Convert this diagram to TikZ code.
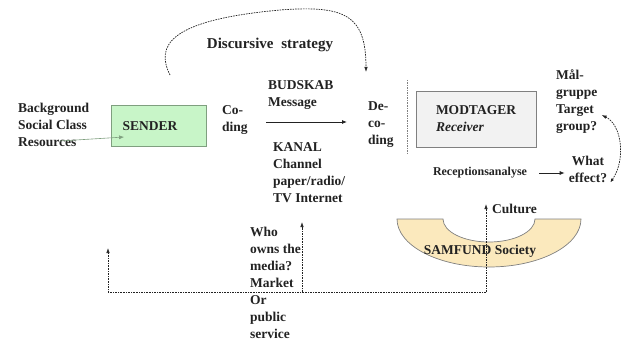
\documentclass[tikz,border=0pt]{standalone}
\usepackage{fontspec}
\setmainfont{Liberation Serif}
\usetikzlibrary{positioning, calc, arrows.meta}
\definecolor{sendfill}{HTML}{C8F5C8}
\definecolor{sendline}{HTML}{7F9F7F}
\definecolor{recfill}{HTML}{F2F2F2}
\definecolor{socfill}{HTML}{FBE9BD}
\definecolor{ink}{HTML}{222222}

\begin{document}
\begin{tikzpicture}[x=1pt, y=-1pt,
		every node/.style={font=\bfseries\fontsize{13.5}{17}\selectfont, inner sep=0pt, text=ink},
		txt/.style={align=left, anchor=west},
		sendbox/.style={draw=sendline, fill=sendfill, line width=0.8pt, align=left, text width=73pt, inner xsep=11pt, minimum height=41pt},
		recbox/.style={draw=gray, fill=recfill, line width=0.8pt, align=left, text width=80pt, inner xsep=20pt, minimum height=56pt},
		dots/.style={draw=ink, line width=0.7pt, dash pattern=on 1.6pt off 1pt, -{Latex[length=5pt,width=3.5pt]}},
		flow/.style={draw=ink, line width=0.8pt, -{Latex[length=5pt,width=4pt]}}
		]
		\useasboundingbox (0,0) rectangle (627,345);
		% sender side
		\node[txt] (bg) at (18,125) {Background\\Social Class\\Resources};
		\node[sendbox] (sender) at (159,126) {SENDER};
		\node[txt] (coding) at (222,120) {Co-\\ding};
		\draw[flow, draw=sendline, line width=0.6pt] ($(bg.west)+(42,16)$) -- ($(sender.west)+(13,11)$);
		% message and channel
		\node[txt] (msg) at (268,95) {BUDSKAB\\Message};
		\node[txt] (kanal) at (273,173) {KANAL\\Channel\\paper/radio/\\TV Internet};
		\node[txt] (decoding) at (368,125) {De-\\co-\\ding};
		\coordinate (mstart) at (266,122);
		\coordinate (mend) at (347,122);
		\draw[flow] (mstart) -- (mend);
		\node[font=\bfseries\fontsize{15}{18}\selectfont] (strategy) at (270,45) {Discursive\hspace{4pt} strategy};
		\coordinate (strat0) at (170,75);
		\coordinate (strat1) at (366,72);
		\draw[dots] (strat0) .. controls (155,45) and (170,20) .. (280,10) .. controls (345,5) and (366,15) .. (strat1);
		% receiver side
		\draw[draw=gray, line width=0.7pt, dash pattern=on 1.5pt off 1pt] (407,80) -- (407,155);
		\node[recbox] (receiver) at (476,119) {MODTAGER\\\textit{Receiver}};
		\node[txt] (target) at (556,102) {Mål-\\gruppe\\Target\\group?};
		\node[align=center] (effect) at (588,169) {What\\effect?};
		\node[font=\bfseries\fontsize{12}{14}\selectfont] (recep) at (480,173) {Receptionsanalyse};
		\draw[flow] ([xshift=12pt]recep.east) -- ([xshift=-4pt]effect.west |- recep.east);
		\draw[dots, {Latex[length=4pt,width=3pt]}-{Latex[length=5pt,width=3.5pt]}] ([xshift=3pt]effect.south east) .. controls (626,160) and (622,125) .. ([xshift=4pt]target.east |- 0,115);
		% society
		\draw[draw=gray, fill=socfill, line width=0.7pt] (397,219) arc[start angle=180, end angle=360, x radius=92pt, y radius=48pt] -- (535,219) arc[start angle=0, end angle=-180, x radius=46pt, y radius=23pt] -- cycle;
		\node (society) at (480,251) {SAMFUND Society};
		\node[txt] (culture) at (492,209) {Culture};
		% ownership loop
		\node[txt] (owner) at (250,283) {Who\\owns the\\media?\\Market\\Or\\public\\service};
		\coordinate (base) at (486,292);
		\coordinate (sendup) at (108,248);
		\coordinate (kanalup) at (302,222);
		\draw[dots] (base) -- (base |- culture.north);
		\draw[dots] (base) -- (sendup |- base) -- (sendup);
		\draw[dots] (kanalup |- base) -- (kanalup);
\end{tikzpicture}
\end{document}
